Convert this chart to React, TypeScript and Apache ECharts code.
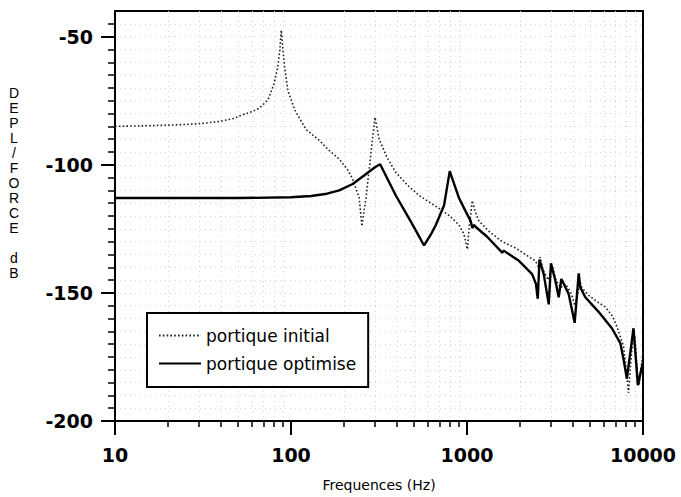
import React, { useEffect, useRef } from 'react';
import * as echarts from 'echarts';

const seriesNames = ['portique initial', 'portique optimise'];
const xAxisTitle = 'Frequences (Hz)';
const yAxisTitle = 'DEPL/FORCE dB';

const xMajorTicks = [10, 100, 1000, 10000];
const xMinorTicks = [
  20, 30, 40, 50, 60, 70, 80, 90,
  200, 300, 400, 500, 600, 700, 800, 900,
  2000, 3000, 4000, 5000, 6000, 7000, 8000, 9000,
];
const yMajorTicks = [-200, -150, -100, -50];

const initialFreq = [
  10, 15, 23, 30, 39, 47, 53, 60, 66, 74, 80, 84, 86.5, 88, 90, 92, 96, 105, 122, 145, 162, 188,
  210, 224, 244, 253, 260, 267, 285, 300, 317, 350, 394, 460, 534, 693, 800, 901, 960, 1005, 1030,
  1072, 1110, 1170, 1334, 1585, 1887, 2293, 2450, 2550, 2600, 2700, 2900, 3050, 3200, 3400, 3622,
  3900, 4100, 4400, 4500, 4911, 5500, 6110, 6700, 7110, 7760, 8100, 8280, 8500, 8830, 9000, 9350,
  9500, 10000,
];
const initialDb = [
  -85, -84.8, -84.4, -84, -83.1, -82, -80.5, -79.3, -77.9, -74.7, -68.5, -62, -55, -47.5, -55, -62,
  -71, -78.6, -86.3, -90.5, -94, -97.8, -102, -105.5, -113, -124, -118, -113, -95, -81.5, -90, -97,
  -103, -108, -112, -117, -120, -123.5, -127, -133, -124, -114, -118, -122, -126, -130, -132.5,
  -136.3, -137.5, -140, -136, -141, -145, -139.5, -145, -148, -146.5, -150, -155, -146, -148, -151,
  -153.5, -155.5, -159, -163.2, -171, -182, -189, -178, -165, -167, -184, -186, -173,
];

const optimFreq = [
  10, 50, 100, 130, 160, 188, 224, 267, 300, 321, 394, 469, 520, 570, 620, 665, 741, 798, 863, 901,
  984, 1050, 1072, 1097, 1130, 1297, 1585, 1620, 1656, 1973, 2344, 2464, 2524, 2581, 2729, 2915,
  3000, 3177, 3319, 3436, 3781, 4090, 4313, 4400, 4703, 5592, 6655, 7430, 7760, 8100, 8830, 9350,
  10000,
];
const optimDb = [
  -113, -113, -112.7, -112.2, -111.3, -110, -107.5, -103.6, -101, -99.8, -112, -121, -126.5, -131.5,
  -127.5, -123.5, -115.8, -102.5, -109.3, -113, -118.3, -122, -124.7, -123.5, -124.5, -128, -134.3,
  -133.5, -134, -137.5, -142.7, -146.5, -152.3, -137, -142.7, -154.5, -138.5, -145.2, -151.7,
  -144.6, -150.4, -161.7, -142.4, -147.8, -151.7, -157.4, -163.8, -169.6, -176, -183.5, -163.8,
  -186, -177,
];

const FONT = 'DejaVu Sans';

export default function App() {
  const ref = useRef<HTMLDivElement>(null);
  useEffect(() => {
    const chart = echarts.init(ref.current!, null, { renderer: 'svg' });
    const gridLine = { show: true, lineStyle: { color: '#d4d4d4', width: 1, type: [1, 4] } };
    chart.setOption({
      animation: false,
      backgroundColor: '#fff',
      textStyle: { fontFamily: FONT },
      grid: {
        left: 115,
        top: 11,
        right: 38,
        bottom: 71,
        show: true,
        borderColor: '#000',
        borderWidth: 2,
        backgroundColor: 'transparent',
      },
      legend: {
        left: 147,
        top: 313,
        orient: 'vertical',
        data: seriesNames,
        borderColor: '#000',
        borderWidth: 2,
        backgroundColor: '#fff',
        padding: [14, 12, 15, 11],
        itemWidth: 42,
        itemHeight: 14,
        itemGap: 11,
        itemStyle: { opacity: 0, borderWidth: 0 },
        textStyle: { fontFamily: FONT, fontSize: 17, color: '#000' },
      },
      xAxis: [
        {
          type: 'log',
          logBase: 10,
          min: 10,
          max: 10000,
          position: 'bottom',
          name: xAxisTitle,
          nameLocation: 'middle',
          nameGap: 57,
          nameTextStyle: { fontFamily: FONT, fontSize: 14, color: '#000' },
          axisLine: { show: true, lineStyle: { color: '#000', width: 2 } },
          axisTick: { show: true, inside: false, length: 14, customValues: xMajorTicks, lineStyle: { color: '#000', width: 2 } },
          axisLabel: {
            customValues: xMajorTicks,
            formatter: (v: number) => String(Math.round(v)),
            margin: 24,
            fontFamily: FONT,
            fontSize: 19,
            fontWeight: 'bold',
            color: '#000',
          },
          splitLine: { show: false },
          minorTick: { show: false },
        },
        {
          type: 'log',
          logBase: 10,
          min: 10,
          max: 10000,
          position: 'bottom',
          offset: 0,
          axisLine: { show: false },
          axisTick: { show: true, inside: false, length: 6, customValues: xMinorTicks, lineStyle: { color: '#000', width: 1.5 } },
          axisLabel: { show: false, customValues: xMinorTicks },
          splitLine: gridLine,
        },
      ],
      yAxis: {
        type: 'value',
        min: -200,
        max: -40,
        interval: 50,
        position: 'left',
        axisLine: { show: true, lineStyle: { color: '#000', width: 2 } },
        axisTick: { show: true, inside: false, length: 14, customValues: yMajorTicks, lineStyle: { color: '#000', width: 2 } },
        minorTick: { show: true, splitNumber: 10, length: 7, lineStyle: { color: '#000', width: 1.5 } },
        axisLabel: {
          customValues: yMajorTicks,
          margin: 22,
          fontFamily: FONT,
          fontSize: 19,
          fontWeight: 'bold',
          color: '#000',
        },
        splitLine: gridLine,
        minorSplitLine: gridLine,
      },
      series: [
        {
          name: seriesNames[0],
          type: 'line',
          xAxisIndex: 0,
          symbol: 'none',
          data: initialFreq.map((f, i) => [f, initialDb[i]]),
          lineStyle: { color: '#222', width: 1.6, type: [1.6, 2.2] },
          itemStyle: { color: '#222' },
          z: 3,
        },
        {
          name: seriesNames[1],
          type: 'line',
          xAxisIndex: 0,
          symbol: 'none',
          data: optimFreq.map((f, i) => [f, optimDb[i]]),
          lineStyle: { color: '#000', width: 2.4 },
          itemStyle: { color: '#000' },
          z: 4,
        },
      ],
      graphic: [
        {
          type: 'text',
          x: 14,
          y: 85,
          style: {
            text: yAxisTitle.split('').join('\n'),
            fontFamily: 'Liberation Sans',
            fontSize: 14,
            lineHeight: 15,
            textAlign: 'center',
            textVerticalAlign: 'top',
            fill: '#000',
          },
        },
      ],
    });
    return () => chart.dispose();
  }, []);
  return <div ref={ref} style={{ width: 681, height: 497, position: 'absolute', left: 0, top: 0 }} />;
}
